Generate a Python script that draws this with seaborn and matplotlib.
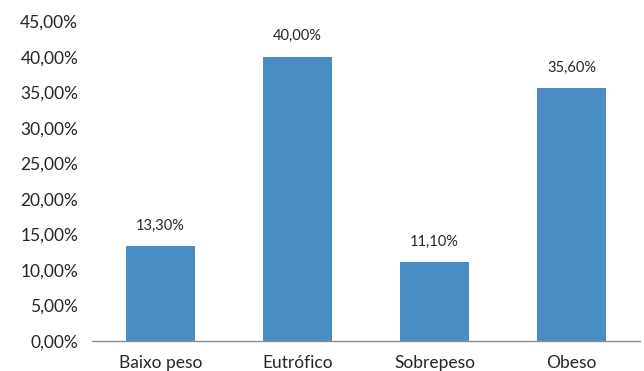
import pandas as pd
import matplotlib.pyplot as plt
import seaborn as sns

categorias = ['Baixo peso', 'Eutrófico', 'Sobrepeso', 'Obeso']
percentuais = [13.3, 40.0, 11.1, 35.6]
rotulos = ['13,30%', '40,00%', '11,10%', '35,60%']

df = pd.DataFrame({'cat': categorias, 'pct': percentuais})

sns.set_style('white')
plt.rcParams['font.family'] = ['Lato', 'DejaVu Sans']

fig = plt.figure(figsize=(6.44, 3.71), dpi=100)
ax = fig.add_axes([0.143, 0.081, 0.851, 0.862])
sns.barplot(data=df, x='cat', y='pct', color='#4a8cc4', saturation=1, width=0.5,
            linewidth=0, ax=ax)

for i, (v, r) in enumerate(zip(percentuais, rotulos)):
    ax.text(i, v + 1.9, r, ha='center', va='bottom', fontsize=10.5, color='#262626')

ax.set_ylim(0, 45)
ax.set_yticks(range(0, 46, 5))
ax.set_yticklabels([f'{t},00%' for t in range(0, 46, 5)])
ax.set_xlabel('')
ax.set_ylabel('')
ax.tick_params(axis='both', length=0, labelsize=12.5, colors='#262626')
ax.tick_params(axis='x', pad=10)
ax.tick_params(axis='y', pad=10)
for s in ['top', 'right', 'left']:
    ax.spines[s].set_visible(False)
ax.spines['bottom'].set_color('#8c8c8c')
ax.spines['bottom'].set_linewidth(1)

fig.savefig('out.png', dpi=100)
